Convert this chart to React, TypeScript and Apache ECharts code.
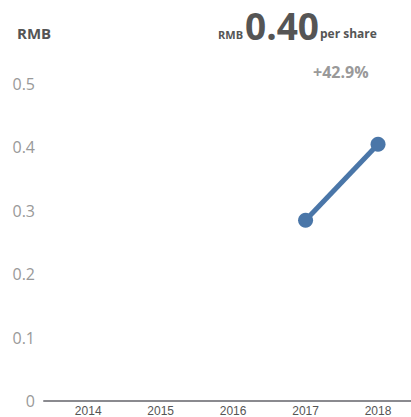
import React, { useEffect, useRef } from "react";
import * as echarts from "echarts";

const years = [2014, 2015, 2016, 2017, 2018];
const epsYears = [2017, 2018];
const epsValues = [0.285, 0.405];
const yTicks = [0, 0.1, 0.2, 0.3, 0.4, 0.5];
const headline = "0.40";
const growth = "+42.9%";

const FONT = "'Open Sans', sans-serif";

export default function App() {
  const ref = useRef<HTMLDivElement>(null);
  useEffect(() => {
    const chart = echarts.init(ref.current!, undefined, { renderer: "svg" });
    chart.setOption({
      animation: false,
      grid: { left: 44, right: 0, top: 84, bottom: 16, containLabel: false },
      xAxis: {
        type: "value",
        min: 2013.39,
        max: 2018.455,
        axisLine: { show: true, lineStyle: { color: "#8a8a8f", width: 2 } },
        axisTick: { show: false },
        splitLine: { show: false },
        axisLabel: {
          customValues: years,
          formatter: (v: number) => String(Math.round(v)),
          color: "#555",
          fontFamily: "Liberation Sans, Arial, sans-serif",
          fontSize: 12,
          margin: 4,
        },
      },
      yAxis: {
        type: "value",
        min: 0,
        max: 0.5,
        interval: 0.1,
        axisLine: { show: false },
        axisTick: { show: false },
        splitLine: { show: false },
        axisLabel: {
          customValues: yTicks,
          formatter: (v: number) => (v === 0 ? "0" : v.toFixed(1)),
          color: "#999",
          fontFamily: FONT,
          fontSize: 16,
          margin: 9,
        },
      },
      series: [
        {
          type: "line",
          data: epsYears.map((y, i) => [y, epsValues[i]]),
          lineStyle: { color: "#4a76a8", width: 5 },
          itemStyle: { color: "#4a76a8" },
          symbol: "circle",
          symbolSize: 15,
          silent: true,
        },
      ],
      graphic: [
        {
          type: "text",
          x: 17,
          y: 33,
          style: {
            text: "RMB",
            fill: "#555",
            font: "bold 15px " + FONT,
            align: "left",
            verticalAlign: "middle",
          },
        },
        {
          type: "text",
          x: 218,
          y: 34,
          style: {
            text: "RMB",
            fill: "#555",
            font: "bold 11px " + FONT,
            align: "left",
            verticalAlign: "middle",
          },
        },
        {
          type: "text",
          x: 245,
          y: 25,
          style: {
            text: headline,
            fill: "#555",
            font: "bold 37px " + FONT,
            align: "left",
            verticalAlign: "middle",
          },
        },
        {
          type: "text",
          x: 320,
          y: 33.5,
          style: {
            text: "per share",
            fill: "#555",
            font: "bold 12px " + FONT,
            align: "left",
            verticalAlign: "middle",
          },
        },
        {
          type: "text",
          x: 313,
          y: 71.5,
          style: {
            text: growth,
            fill: "#999",
            font: "bold 16px " + FONT,
            align: "left",
            verticalAlign: "middle",
          },
        },
      ],
    });
    return () => chart.dispose();
  }, []);
  return (
    <div
      ref={ref}
      style={{ position: "absolute", left: 0, top: 0, width: 411, height: 417 }}
    />
  );
}
